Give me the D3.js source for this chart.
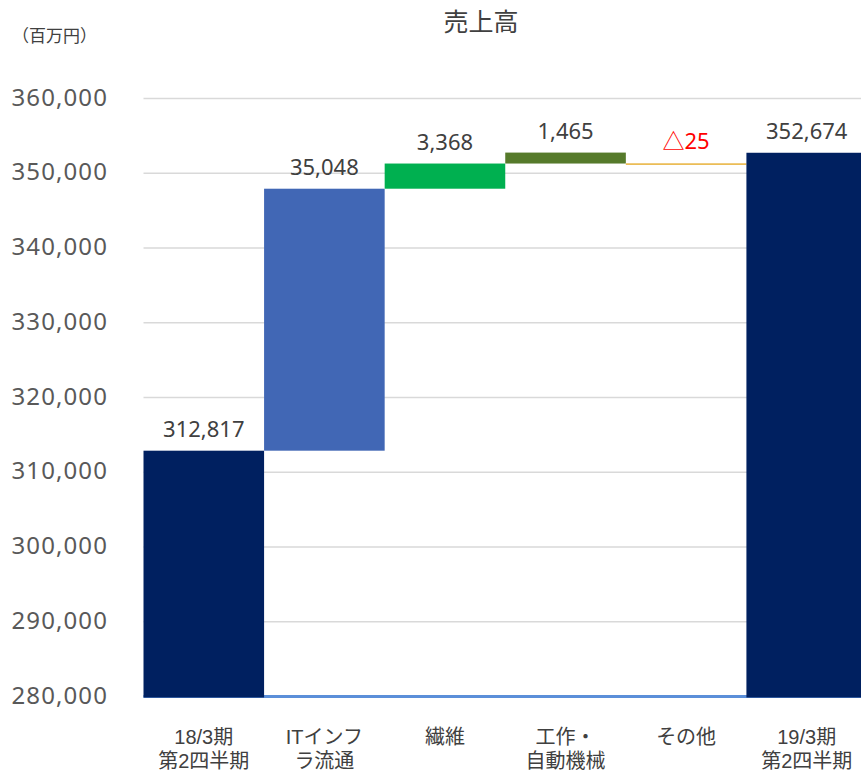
<!DOCTYPE html>
<meta charset="utf-8">
<script src="https://d3js.org/d3.v7.min.js"></script>
<style>
  body { margin: 0; background: #fff; }
  text { font-family: "Noto Sans", "Noto Sans CJK JP", sans-serif; }
</style>
<div id="my_dataviz"></div>

<script>

// data (百万円)
var categories = ["18/3期\n第2四半期", "ITインフ\nラ流通", "繊維", "工作・\n自動機械", "その他", "19/3期\n第2四半期"];
var barFrom    = [280000, 312817, 347865, 351233, 351233, 280000];
var barTo      = [312817, 347865, 351233, 352698, 351258, 352674];
var barLabels  = ["312,817", "35,048", "3,368", "1,465", "△25", "352,674"];
var barColors  = ["#002060", "#4167B5", "#00B050", "#567A2B", "#E8B23A", "#002060"];
var yTicks     = [280000, 290000, 300000, 310000, 320000, 330000, 340000, 350000, 360000];

// set the dimensions and margins of the graph
var margin = {top: 98, right: -6, bottom: 77, left: 143.5},
    width = 861 - margin.left - margin.right,
    height = 773 - margin.top - margin.bottom;

var root = d3.select("#my_dataviz")
  .append("svg")
    .attr("width", 861)
    .attr("height", 773);

var svg = root.append("g")
    .attr("transform", "translate(" + margin.left + "," + margin.top + ")");

// title and unit
root.append("text")
    .attr("x", 481).attr("y", 31)
    .attr("text-anchor", "middle")
    .style("font-family", "'Noto Sans CJK JP'")
    .style("font-size", "25px")
    .style("fill", "#404040")
    .text("売上高");

root.append("text")
    .attr("x", 12).attr("y", 42)
    .style("font-family", "'Noto Sans CJK JP'")
    .style("font-size", "17px")
    .style("fill", "#404040")
    .text("（百万円）");

// scales
var x = d3.scaleBand()
    .domain(d3.range(categories.length))
    .range([0, width])
    .padding(0);

var y = d3.scaleLinear()
    .domain([280000, 360000])
    .range([height, 0]);

// gridlines
svg.append("g")
    .call(d3.axisLeft(y).tickValues(yTicks).tickSize(-width).tickFormat(""))
    .call(function(g) { g.select(".domain").remove(); })
    .selectAll("line")
      .attr("stroke", "#D9D9D9")
      .attr("stroke-width", 1.5);

// Y axis labels
svg.append("g")
    .attr("transform", "translate(" + (108 - margin.left) + ",0)")
    .call(d3.axisLeft(y).tickValues(yTicks).tickSize(0).tickPadding(0).tickFormat(d3.format(",")))
    .call(function(g) { g.select(".domain").remove(); })
    .selectAll("text")
      .style("font-size", "24px")
      .style("letter-spacing", "1.1px")
      .style("fill", "#595959")
      .attr("dy", "0.3em");

// x axis line (blue)
svg.append("line")
    .attr("x1", 0).attr("x2", width)
    .attr("y1", y(280000) + 0.5).attr("y2", y(280000) + 0.5)
    .attr("stroke", "#5B8FD9")
    .attr("stroke-width", 3);

// bars
svg.append("g")
  .selectAll("rect")
  .data(categories)
  .enter().append("rect")
    .attr("x", function(d, i) { return x(i); })
    .attr("width", x.bandwidth())
    .attr("y", function(d, i) { return y(barTo[i]); })
    .attr("height", function(d, i) {
      var h = y(barFrom[i]) - y(barTo[i]);
      if (barFrom[i] == 280000) h += 1.5;
      return Math.max(h, 1.5);
    })
    .attr("fill", function(d, i) { return barColors[i]; });

// value labels
svg.append("g")
  .selectAll("text")
  .data(barLabels)
  .enter().append("text")
    .attr("x", function(d, i) { return x(i) + x.bandwidth() / 2; })
    .attr("y", function(d, i) { return y(barTo[i]) - 14; })
    .attr("text-anchor", "middle")
    .style("font-size", "22px")
    .style("fill", function(d) { return d.indexOf("△") == 0 ? "#FF0000" : "#404040"; })
    .text(function(d) { return d; });

// category labels, one text per line
var catLines = [];
categories.forEach(function(c, i) {
  c.split("\n").forEach(function(line, j) {
    catLines.push({i: i, j: j, text: line});
  });
});

svg.append("g")
  .selectAll("text")
  .data(catLines)
  .enter().append("text")
    .attr("text-anchor", "middle")
    .attr("x", function(d) { return x(d.i) + x.bandwidth() / 2; })
    .attr("y", function(d) { return height + 48 + d.j * 24; })
    .style("font-family", "'Liberation Sans', 'Noto Sans CJK JP'")
    .style("font-size", "20px")
    .style("fill", "#404040")
    .text(function(d) { return d.text; });

</script>
